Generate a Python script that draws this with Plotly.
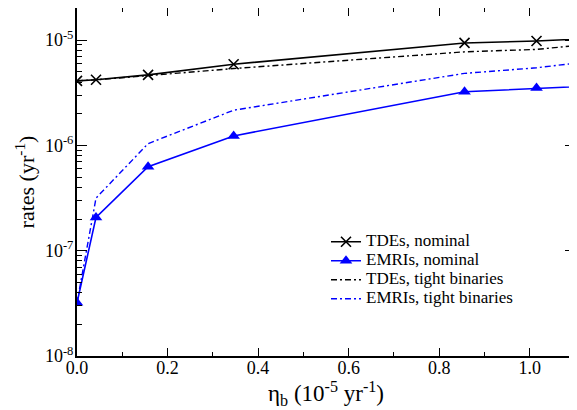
import plotly.graph_objects as go

eta = [0.0, 0.042, 0.157, 0.346, 0.856, 1.015, 1.2]
tde_nominal = [4.1e-6, 4.2e-6, 4.68e-6, 5.9e-6, 9.4e-6, 9.8e-6, 1.066e-5]
emri_nominal = [3.2e-8, 2.07e-7, 6.27e-7, 1.23e-6, 3.23e-6, 3.5e-6, 3.77e-6]
tde_tight = [4.1e-6, 4.2e-6, 4.6e-6, 5.37e-6, 7.74e-6, 8.16e-6, 9.77e-6]
emri_tight = [3.2e-8, 3.16e-7, 1.04e-6, 2.16e-6, 4.83e-6, 5.46e-6, 6.79e-6]

series_names = ["TDEs, nominal", "EMRIs, nominal", "TDEs, tight binaries", "EMRIs, tight binaries"]

x_ticks = [0.0, 0.2, 0.4, 0.6, 0.8, 1.0]
x_ticklabels = ["0.0", "0.2", "0.4", "0.6", "0.8", "1.0"]
x_minor = [0.1, 0.3, 0.5, 0.7, 0.9]
y_ticks = [1e-8, 1e-7, 1e-6, 1e-5]
y_ticklabels = ["10<sup>-8</sup>", "10<sup>-7</sup>", "10<sup>-6</sup>", "10<sup>-5</sup>"]
y_minor = [m * 10.0 ** d for d in range(-8, -4) for m in range(2, 10)]

BLUE = "#0000ff"
FONT = "Liberation Serif, Times New Roman, serif"


def legend_label(s):
    return '<span style="font-size:17px">' + s + '</span>'


fig = go.Figure()
fig.add_trace(go.Scatter(x=eta, y=tde_nominal, mode="lines+markers", name=legend_label(series_names[0]),
                         line=dict(color="black", width=1.6),
                         marker=dict(symbol="x-thin", size=10, line=dict(color="black", width=1.6))))
fig.add_trace(go.Scatter(x=eta, y=emri_nominal, mode="lines+markers", name=legend_label(series_names[1]),
                         line=dict(color=BLUE, width=1.6),
                         marker=dict(symbol="triangle-up", size=11, color=BLUE)))
fig.add_trace(go.Scatter(x=eta, y=tde_tight, mode="lines", name=legend_label(series_names[2]),
                         line=dict(color="black", width=1.4, dash="6px,3px,2px,3px")))
fig.add_trace(go.Scatter(x=eta, y=emri_tight, mode="lines", name=legend_label(series_names[3]),
                         line=dict(color=BLUE, width=1.4, dash="6px,3px,2px,3px")))

fig.update_layout(
    width=569, height=402,
    margin=dict(l=69, r=2, t=0, b=54, autoexpand=False),
    paper_bgcolor="white", plot_bgcolor="white",
    font=dict(family=FONT, size=18, color="black"),
    showlegend=True,
    legend=dict(x=0.5, y=0.37, xanchor="left", yanchor="top",
                bgcolor="rgba(0,0,0,0)", font=dict(family=FONT, size=11),
                itemwidth=30, tracegroupgap=0),
)
fig.update_xaxes(
    range=[0, 1.1], tickvals=x_ticks, ticktext=x_ticklabels,
    ticks="inside", ticklen=8, tickwidth=1.2, tickcolor="black",
    minor=dict(tickvals=x_minor, ticks="inside", ticklen=4, tickwidth=1.2, tickcolor="black"),
    showline=True, linecolor="black", linewidth=2, mirror="allticks",
    showgrid=False, zeroline=False, automargin=True,
    tickfont=dict(family=FONT, size=18),
    ticklabelstandoff=-6,
    title=dict(text="η<sub>b</sub> (10<sup>-5</sup> yr<sup>-1</sup>)", font=dict(family=FONT, size=23), standoff=8),
)
fig.update_yaxes(
    type="log", range=[-8, -4.695], tickvals=y_ticks, ticktext=y_ticklabels,
    ticks="inside", ticklen=10, tickwidth=1.2, tickcolor="black",
    minor=dict(tickvals=y_minor, ticks="inside", ticklen=5, tickwidth=1.2, tickcolor="black"),
    showline=True, linecolor="black", linewidth=2, mirror="allticks",
    showgrid=False, zeroline=False,
    tickfont=dict(family=FONT, size=18),
    ticklabelstandoff=-2,
    title=dict(text="rates (yr<sup>-1</sup>)", font=dict(family=FONT, size=22), standoff=4),
)

fig.write_html("out.html")
